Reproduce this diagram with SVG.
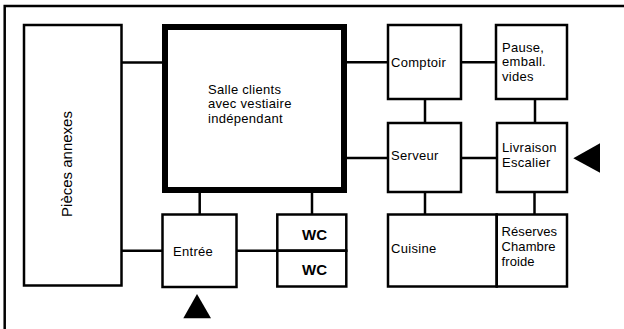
<svg xmlns="http://www.w3.org/2000/svg" width="624" height="329" viewBox="0 0 624 329">
<style>
.box{fill:none;stroke:#000;stroke-width:2.5}
.thick{fill:none;stroke:#000;stroke-width:6}
.con line{stroke:#000;stroke-width:2.5}
text{font-family:"Liberation Sans",Arial,sans-serif;font-size:13px;letter-spacing:0.3px;fill:#000}
.wc{font-weight:bold;font-size:15px;letter-spacing:0}
</style>
<rect width="624" height="329" fill="#fff"/>
<path d="M4.7,329 V6 H624" fill="none" stroke="#000" stroke-width="2.5"/>
<g class="con" id="connectors">
<line x1="121.5" y1="62.5" x2="162" y2="62.5"/>
<line x1="121.5" y1="250.7" x2="162.5" y2="250.7"/>
<line x1="236.5" y1="250.7" x2="277.3" y2="250.7"/>
<line x1="199.7" y1="192" x2="199.7" y2="214.5"/>
<line x1="312" y1="192" x2="312" y2="214.5"/>
<line x1="347" y1="62.3" x2="388" y2="62.3"/>
<line x1="461" y1="62.3" x2="496" y2="62.3"/>
<line x1="425" y1="99" x2="425" y2="123"/>
<line x1="535" y1="99" x2="535" y2="123"/>
<line x1="347" y1="158" x2="388" y2="158"/>
<line x1="461" y1="158" x2="497" y2="158"/>
<line x1="425" y1="192" x2="425" y2="214.5"/>
<line x1="534.5" y1="192" x2="534.5" y2="214.5"/>
</g>
<g id="pieces">
<rect class="box" x="24" y="25" width="97.5" height="260.5"/>
<text transform="translate(72,164) rotate(-90)" text-anchor="middle" style="font-size:15px;letter-spacing:0">Pièces annexes</text>
</g>
<g id="salle">
<rect class="thick" x="165" y="27" width="179" height="163"/>
<text x="208" y="93.5">Salle clients</text>
<text x="208" y="108.2">avec vestiaire</text>
<text x="208" y="122.9">indépendant</text>
</g>
<g id="comptoir">
<rect class="box" x="388" y="25" width="73" height="74"/>
<text x="391" y="67">Comptoir</text>
</g>
<g id="pause">
<rect class="box" x="496" y="25" width="71" height="74"/>
<text x="502" y="51.5">Pause,</text>
<text x="502" y="66.2">emball.</text>
<text x="502" y="80.9">vides</text>
</g>
<g id="serveur">
<rect class="box" x="388" y="123" width="73" height="69"/>
<text x="391" y="160">Serveur</text>
</g>
<g id="livraison">
<rect class="box" x="497" y="123" width="70" height="69"/>
<text x="502" y="151.8">Livraison</text>
<text x="502" y="166.5">Escalier</text>
</g>
<g id="cuisine">
<rect class="box" x="388" y="214.5" width="108.7" height="72"/>
<text x="391" y="253">Cuisine</text>
</g>
<g id="reserves">
<rect class="box" x="496.7" y="214.5" width="70.3" height="72"/>
<text x="501.5" y="236" style="letter-spacing:0.1px">Réserves</text>
<text x="501.5" y="251" style="letter-spacing:0.1px">Chambre</text>
<text x="501.5" y="266" style="letter-spacing:0.1px">froide</text>
</g>
<g id="entree">
<rect class="box" x="162.5" y="214.5" width="74" height="72.5"/>
<text x="173" y="256">Entrée</text>
</g>
<g id="wc1">
<rect class="box" x="277.3" y="214.5" width="69" height="36.2"/>
<text class="wc" x="302" y="240">WC</text>
</g>
<g id="wc2">
<rect class="box" x="277.3" y="250.7" width="69" height="35.8"/>
<text class="wc" x="302" y="275">WC</text>
</g>
<g id="markers">
<polygon points="197,294 211,318.3 183.3,318.3" fill="#000"/>
<polygon points="573.3,158.3 600,143.3 600,172.7" fill="#000"/>
</g>
</svg>
